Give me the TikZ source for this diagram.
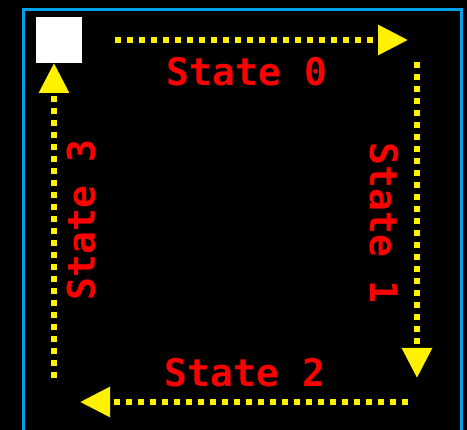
\documentclass[tikz,border=0pt]{standalone}
\usepackage{fontspec}
\newfontfamily\statefont{DejaVu Sans Mono}
\usetikzlibrary{arrows.meta}
\definecolor{frameblue}{RGB}{0,162,232}
\tikzset{
  flow/.style={draw=yellow, line width=6pt, dash pattern=on 6pt off 6pt,
    -{Triangle[length=30pt,width=29pt,fill=yellow]}},
  statelabel/.style={text=red, inner sep=0pt, anchor=base,
    font=\statefont\bfseries\fontsize{38}{40}\selectfont},
}
\begin{document}
\begin{tikzpicture}[x=1pt,y=-1pt]
\fill[black] (0,0) rectangle (467,430);
\useasboundingbox (0,0) rectangle (467,430);
\draw[frameblue, line width=3pt] (23.5,431) -- (23.5,9.5) -- (461.5,9.5) -- (461.5,431);
\node[fill=white, minimum size=46pt, inner sep=0pt] (sq) at (59,40) {};
\coordinate (a0) at (115,40);
\coordinate (b0) at (408,40);
\coordinate (a1) at (417,62);
\coordinate (b1) at (417,378);
\coordinate (a2) at (408,402);
\coordinate (b2) at (80,402);
\coordinate (a3) at (54,378);
\coordinate (b3) at (54,63);
\draw[flow] (a0) -- (b0);
\draw[flow] (a1) -- (b1);
\draw[flow] (a2) -- (b2);
\draw[flow] (a3) -- (b3);
\node[statelabel] (s0) at (247,86) {State 0};
\node[statelabel, rotate=-90] (s1) at (370,223) {State 1};
\node[statelabel] (s2) at (245,387) {State 2};
\node[statelabel, rotate=90] (s3) at (95,220) {State 3};
\end{tikzpicture}
\end{document}
